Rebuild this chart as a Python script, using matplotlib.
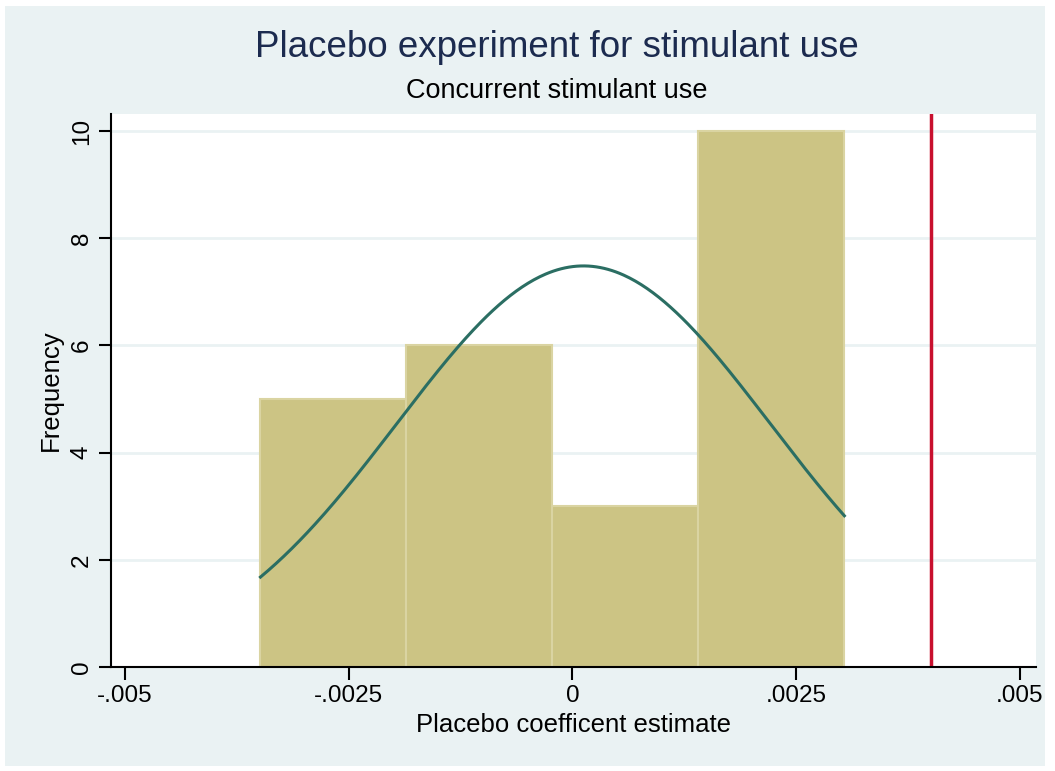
import numpy as np
import matplotlib.pyplot as plt
import matplotlib.patches as patches

plt.rcParams['font.family'] = ['Liberation Sans', 'DejaVu Sans']

# histogram of placebo estimates
bin_start = -0.003486
bin_width = 0.001631
counts = [5, 6, 3, 10]
# fitted normal overlay
fit_mean = 0.000123
fit_sd = 0.002087
actual_estimate = 0.004008

xticks = [-0.005, -0.0025, 0, 0.0025, 0.005]
xticklabels = ['-.005', '-.0025', '0', '.0025', '.005']
yticks = [0, 2, 4, 6, 8, 10]

bg = '#EAF2F3'
bar_fill = '#CCC484'
bar_edge = '#DAD4A2'
curve_col = '#2B6E63'
red_col = '#C8102E'

fig = plt.figure(figsize=(10.55, 7.71), dpi=100, facecolor='white')
fig.patches.append(patches.Rectangle((5 / 1055, 5 / 771), 1040 / 1055, 760 / 771,
                                     transform=fig.transFigure, facecolor=bg,
                                     edgecolor='none', zorder=-10))
ax = fig.add_axes([111 / 1055, 104 / 771, 925 / 1055, 553 / 771])
ax.set_facecolor('white')

lefts = bin_start + bin_width * np.arange(len(counts))
ax.bar(lefts, counts, width=bin_width, align='edge', color=bar_fill,
       edgecolor=bar_edge, linewidth=1.5, zorder=2)

n = sum(counts)
xs = np.linspace(bin_start, bin_start + bin_width * len(counts), 300)
ys = n * bin_width * np.exp(-0.5 * ((xs - fit_mean) / fit_sd) ** 2) / (fit_sd * np.sqrt(2 * np.pi))
ax.plot(xs, ys, color=curve_col, linewidth=2.2, zorder=3)

ax.axvline(actual_estimate, color=red_col, linewidth=2.5, zorder=3)

for y in yticks[1:]:
    ax.axhline(y, color=bg, linewidth=2, zorder=1)

ax.set_xlim(-0.005156, 0.005179)
ax.set_ylim(0, 10.317)
for s in ['top', 'right']:
    ax.spines[s].set_visible(False)
ax.spines['left'].set_linewidth(1.5)
ax.spines['bottom'].set_linewidth(1.5)
ax.spines['left'].set_zorder(4)
ax.spines['bottom'].set_zorder(4)

ax.set_xticks(xticks)
ax.set_xticklabels(xticklabels)
ax.set_yticks(yticks)
ax.set_yticklabels([str(v) for v in yticks], rotation=90, va='center')
ax.tick_params(axis='both', length=9, width=1.5, labelsize=17.5, pad=4, colors='black')

ax.set_xlabel('Placebo coefficent estimate', fontsize=18.5, labelpad=4)
ax.set_ylabel('Frequency', fontsize=18.5, labelpad=6)

fig.text(0.528, 0.938, 'Placebo experiment for stimulant use', ha='center', va='center',
         fontsize=26.5, color='#1C2B4F')
fig.text(0.528, 0.882, 'Concurrent stimulant use', ha='center', va='center',
         fontsize=19.5, color='black')

fig.savefig('out.png', dpi=100, facecolor=fig.get_facecolor())
